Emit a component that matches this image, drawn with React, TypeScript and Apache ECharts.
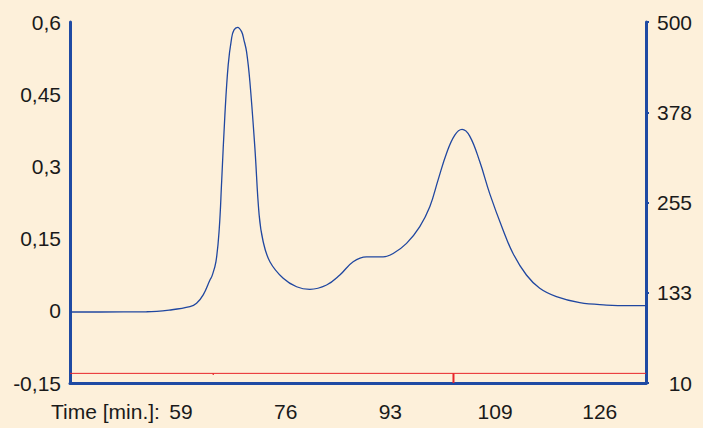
import React, { useEffect, useRef } from "react";
import * as echarts from "echarts";

// Absorbance trace (time in min, value in left-axis units)
const TIMES = [
  41.25, 46.05, 53.51, 57.24, 60.44, 61.5, 62.56, 63.64, 63.96, 64.6, 65.13, 65.51, 66.03, 66.56, 67.1,
  67.47, 68.06, 68.7, 69.07, 69.5, 70.03, 70.83, 71.51, 72.15, 73.23, 75.36, 77.5, 79.63, 82.3, 84.42,
  86.55, 88.69, 91.35, 92.95, 95.09, 97.21, 98.81, 100.14, 101.48, 102.81, 103.97, 105.2, 106.8,
  108.41, 110.53, 112.13, 114.27, 116.4, 119.07, 122.8, 127.06, 130.79, 133.4,
];
const SIGNAL = [
  -0.0025, -0.0025, -0.002, 0.0017, 0.0085, 0.0156, 0.033, 0.064, 0.072, 0.102, 0.171, 0.268, 0.407, 0.511,
  0.566, 0.583, 0.589, 0.58, 0.563, 0.538, 0.476, 0.338, 0.199, 0.144, 0.102, 0.0675, 0.05, 0.0447, 0.0536,
  0.0744, 0.102, 0.112, 0.112, 0.119, 0.14, 0.175, 0.216, 0.272, 0.327, 0.365, 0.377, 0.363, 0.31,
  0.243, 0.168, 0.119, 0.0744, 0.0467, 0.0293, 0.0168, 0.012, 0.0106, 0.0106,
];

// Fraction marker trace (red): baseline and spikes
const MARK_TIMES = [41.25, 64.17, 64.17, 64.17, 133.4];
const MARK_VALUES = [-0.13, -0.13, -0.133, -0.13, -0.13];
const SPIKE_TIMES = [102.6, 102.6];
const SPIKE_VALUES = [-0.13, -0.15];

// Axis ticks
const X_TICK_VALUES = [59, 75.75, 92.5, 109.25, 126];
const X_TICK_LABELS = ["59", "76", "93", "109", "126"];
const RIGHT_TICK_LABELS = ["10", "133", "255", "378", "500"];

const BG = "#FDF0DA";
const AXIS = "#1F4AA3";
const RED = "#E8262A";
const FONT = "'Liberation Sans', Arial, Helvetica, sans-serif";
const FS = 21;

export default function App() {
  const ref = useRef<HTMLDivElement>(null);

  useEffect(() => {
    if (!ref.current) return;
    const chart = echarts.init(ref.current, null, { renderer: "svg" });
    const label = { color: "#1a1a1a", fontSize: FS, fontFamily: FONT };
    chart.setOption({
      animation: false,
      backgroundColor: BG,
      grid: { left: 70, right: 57, top: 22, bottom: 45, containLabel: false },
      xAxis: {
        type: "value",
        min: 41.25,
        max: 133.4,
        axisLine: { show: true, onZero: false, lineStyle: { color: AXIS, width: 3 } },
        axisTick: { show: false },
        splitLine: { show: false },
        axisLabel: {
          ...label,
          margin: 18,
          customValues: X_TICK_VALUES,
          formatter: (v: number) => {
            const i = X_TICK_VALUES.findIndex((x) => Math.abs(x - v) < 1e-6);
            return i >= 0 ? X_TICK_LABELS[i] : "";
          },
        },
      },
      yAxis: [
        {
          type: "value",
          min: -0.15,
          max: 0.6,
          interval: 0.15,
          position: "left",
          axisLine: { show: true, onZero: false, lineStyle: { color: AXIS, width: 3 } },
          axisTick: { show: false },
          splitLine: { show: false },
          axisLabel: {
            ...label,
            margin: 9,
            formatter: (v: number) => String(Number(v.toFixed(2))).replace(".", ","),
          },
        },
        {
          type: "value",
          min: 0,
          max: 4,
          interval: 1,
          position: "right",
          axisLine: { show: true, onZero: false, lineStyle: { color: AXIS, width: 3 } },
          axisTick: { show: true, inside: false, length: 3, lineStyle: { color: AXIS, width: 2 } },
          splitLine: { show: false },
          axisLabel: {
            ...label,
            align: "right",
            margin: 46,
            formatter: (v: number) => RIGHT_TICK_LABELS[Math.round(v)] ?? "",
          },
        },
      ],
      graphic: [
        {
          type: "text",
          left: 51,
          top: 401,
          style: { text: "Time [min.]:", fill: "#1a1a1a", fontSize: FS, fontFamily: FONT },
        },
      ],
      series: [
        {
          type: "line",
          yAxisIndex: 0,
          data: MARK_TIMES.map((t, i) => [t, MARK_VALUES[i]]),
          showSymbol: false,
          symbol: "none",
          lineStyle: { color: RED, width: 1 },
          z: 2,
        },
        {
          type: "line",
          yAxisIndex: 0,
          data: SPIKE_TIMES.map((t, i) => [t, SPIKE_VALUES[i]]),
          showSymbol: false,
          symbol: "none",
          lineStyle: { color: RED, width: 2 },
          z: 1,
        },
        {
          type: "line",
          yAxisIndex: 0,
          data: TIMES.map((t, i) => [t, SIGNAL[i]]),
          showSymbol: false,
          symbol: "none",
          smooth: 0.4,
          lineStyle: { color: "#2047A0", width: 1.3 },
          z: 3,
        },
      ],
    });
    return () => chart.dispose();
  }, []);

  return (
    <div
      ref={ref}
      style={{ position: "fixed", left: 0, top: 0, width: 703, height: 428 }}
    />
  );
}
